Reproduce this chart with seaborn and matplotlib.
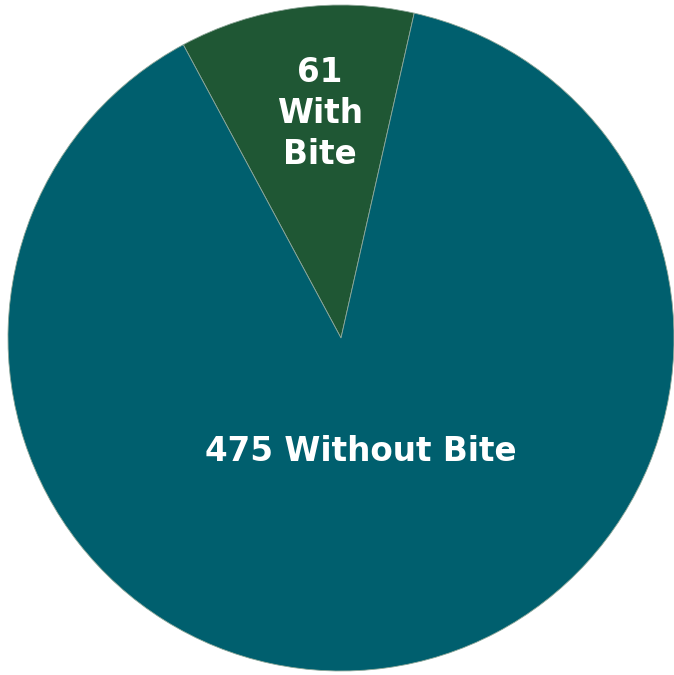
import matplotlib
matplotlib.use("Agg")
import matplotlib.pyplot as plt
import seaborn as sns

# Data
labels = ["With Bite", "Without Bite"]
counts = [61, 475]
colors = ["#1f5734", "#005f6e"]

sns.set_theme(style="white")
plt.rcParams['font.family'] = ['DejaVu Sans']

fig = plt.figure(figsize=(6.74, 6.75), dpi=100)
ax = fig.add_axes([0, 0, 1, 1])

wedges, _ = ax.pie(counts, colors=colors, startangle=77.3, counterclock=True,
                   radius=1.0, center=(0, 0),
                   wedgeprops={"edgecolor": "#8fa89a", "linewidth": 0.6})

ax.set_xlim(-1.024, 1.0)
ax.set_ylim(-1.012, 1.015)
ax.set_aspect("auto")
ax.axis("off")

ax.text(-0.063, 0.675, f"{counts[0]}\nWith\nBite", ha="center", va="center",
        color="white", fontsize=23.5, fontweight="bold", linespacing=1.3)
ax.text(0.06, -0.34, f"{counts[1]} {labels[1]}", ha="center", va="center",
        color="white", fontsize=23.5, fontweight="bold")

fig.savefig("out.png", dpi=100, facecolor="white")
